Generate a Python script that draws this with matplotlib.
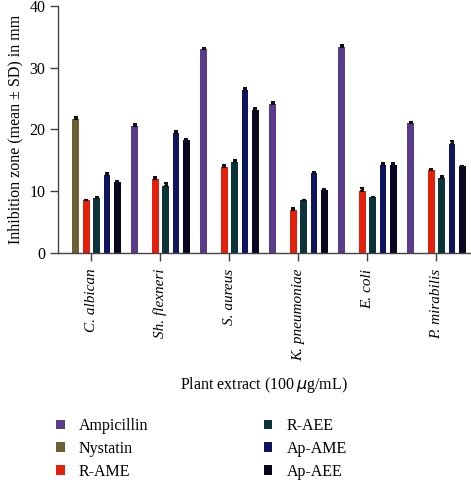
import numpy as np
import matplotlib
matplotlib.use('Agg')
from matplotlib import pyplot as plt
from matplotlib.patches import Patch

# data (mm, mean and SD)
organisms = ['C. albican', 'Sh. flexneri', 'S. aureus', 'K. pneumoniae', 'E. coli', 'P. mirabilis']
series = ['Ampicillin', 'Nystatin', 'R-AME', 'R-AEE', 'Ap-AME', 'Ap-AEE']
colors = ['#5a3c8a', '#6e6035', '#e2200c', '#08343a', '#0e1660', '#0a0620']

ampicillin = [np.nan, 20.6, 33.0, 24.1, 33.3, 21.0]
nystatin = [21.7, np.nan, np.nan, np.nan, np.nan, np.nan]
r_ame = [8.5, 11.9, 13.9, 7.0, 10.0, 13.4]
r_aee = [8.8, 10.8, 14.7, 8.5, 9.0, 12.1]
ap_ame = [12.6, 19.4, 26.4, 13.0, 14.2, 17.6]
ap_aee = [11.4, 18.2, 23.2, 10.1, 14.3, 14.0]

sd_ampicillin = [0, 0.3, 0.2, 0.3, 0.3, 0.2]
sd_nystatin = [0.3, 0, 0, 0, 0, 0]
sd_r_ame = [0.1, 0.4, 0.4, 0.3, 0.5, 0.2]
sd_r_aee = [0.3, 0.5, 0.4, 0.1, 0.1, 0.3]
sd_ap_ame = [0.3, 0.4, 0.3, 0.1, 0.3, 0.5]
sd_ap_aee = [0.3, 0.2, 0.2, 0.2, 0.2, 0.1]

values = [ampicillin, nystatin, r_ame, r_aee, ap_ame, ap_aee]
sds = [sd_ampicillin, sd_nystatin, sd_r_ame, sd_r_aee, sd_ap_ame, sd_ap_aee]

plt.rcParams['font.family'] = ['Liberation Serif', 'DejaVu Serif']

fig = plt.figure(figsize=(4.71, 4.80), dpi=100)
ax = fig.add_axes([0.123, 0.4735, 0.877, 0.514])

x = np.arange(len(organisms))
step = 0.15
width = 0.10
for i, (vals, sd, c) in enumerate(zip(values, sds, colors)):
    pos = x + (i - 2.5) * step
    vals = np.array(vals, dtype=float)
    ax.bar(pos, vals, width, color=c, zorder=2)
    ok = ~np.isnan(vals)
    ax.errorbar(pos[ok], vals[ok], yerr=[np.zeros(ok.sum()), np.array(sd)[ok]],
                fmt='none', ecolor='#111111', elinewidth=2, capsize=1.6,
                capthick=1.5, zorder=3)

ax.set_xlim(-0.486, 5.5)
ax.set_ylim(0, 40)
ax.set_yticks([0, 10, 20, 30, 40])
ax.set_xticks(x)
ax.set_xticklabels(organisms, rotation=90, style='italic', fontsize=11)
ax.tick_params(axis='y', labelsize=11.5, length=6, width=1, color='#444444', pad=3)
ax.tick_params(axis='x', length=5.5, width=1, color='#444444', pad=6)
for s in ['top', 'right']:
    ax.spines[s].set_visible(False)
for s in ['left', 'bottom']:
    ax.spines[s].set_color('#444444')
    ax.spines[s].set_linewidth(1)

ax.set_ylabel('Inhibition zone (mean \u00b1 SD) in mm', fontsize=11.5, labelpad=4)
fig.text(0.56, 0.197, 'Plant extract (100$\\,\\mu$g/mL)', ha='center', va='center',
         fontsize=11.5)

handles = [Patch(facecolor=c, label=s) for s, c in zip(series, colors)]
fig.legend(handles=handles, ncol=2, loc='upper left', bbox_to_anchor=(0.105, 0.142),
           frameon=False, fontsize=11.5, handlelength=0.55, handleheight=0.55,
           handletextpad=0.9, labelspacing=0.42, columnspacing=7.2, borderaxespad=0)

plt.savefig('out.png', dpi=100)
